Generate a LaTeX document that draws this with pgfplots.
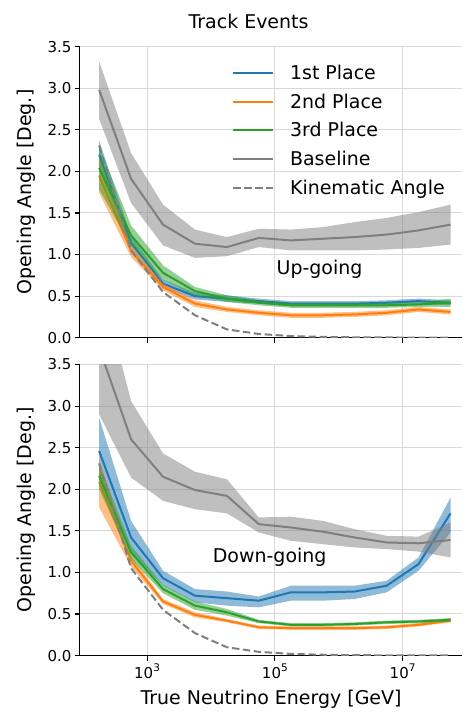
\documentclass[border=0pt]{standalone}
\usepackage{fontspec}
\setmainfont{DejaVu Sans}
\usepackage{pgfplots}
\pgfplotsset{compat=1.18}
\usepackage{pgfplotstable}

\definecolor{tabblue}{HTML}{1F77B4}
\definecolor{taborange}{HTML}{FF7F0E}
\definecolor{tabgreen}{HTML}{2CA02C}
\definecolor{tabgray}{HTML}{7F7F7F}

\newcommand{\labfont}{\fontsize{19}{23}\selectfont}
\newcommand{\tickfont}{\fontsize{15}{18}\selectfont}
\newcommand{\tp}[1]{10\raisebox{6.5pt}{\fontsize{10.5}{12}\selectfont #1}}

% Up-going: central lines
\pgfplotstableread{
E        b    o    g    base kin
177.8    2.20 1.95 2.04 2.98 2.31
562.3    1.14 1.04 1.23 1.91 1.05
1778     0.65 0.61 0.78 1.36 0.55
5623     0.50 0.41 0.56 1.13 0.27
17783    0.47 0.34 0.47 1.09 0.10
56234    0.44 0.30 0.42 1.20 0.045
177828   0.41 0.27 0.39 1.17 0.02
562341   0.41 0.27 0.39 1.19 0.01
1778279  0.41 0.28 0.39 1.21 0.005
5623413  0.42 0.30 0.39 1.24 0.003
17782794 0.44 0.34 0.40 1.29 0.002
56234133 0.42 0.31 0.42 1.36 0.001
}\upmid
% Up-going: bands (upper edge forward, lower edge backward)
\pgfplotstableread{
E        b    o    g    base
177.8    2.37 2.14 2.30 3.32
562.3    1.22 1.11 1.35 2.22
1778     0.70 0.65 0.87 1.60
5623     0.54 0.45 0.61 1.30
17783    0.51 0.37 0.51 1.21
56234    0.47 0.33 0.45 1.31
177828   0.44 0.30 0.42 1.30
562341   0.44 0.30 0.42 1.33
1778279  0.44 0.31 0.42 1.39
5623413  0.45 0.33 0.42 1.44
17782794 0.47 0.37 0.43 1.51
56234133 0.45 0.34 0.47 1.60
56234133 0.39 0.28 0.37 1.12
17782794 0.41 0.31 0.37 1.08
5623413  0.39 0.27 0.36 1.06
1778279  0.38 0.25 0.36 1.05
562341   0.38 0.24 0.36 1.05
177828   0.38 0.24 0.36 1.05
56234    0.41 0.27 0.39 1.09
17783    0.43 0.31 0.43 0.98
5623     0.46 0.37 0.51 0.96
1778     0.60 0.57 0.69 1.11
562.3    1.06 0.97 1.11 1.62
177.8    2.03 1.74 1.78 2.63
}\upband

% Down-going: central lines
\pgfplotstableread{
E        b    o    g    base kin
177.8    2.46 2.09 2.16 3.70 2.31
562.3    1.42 1.14 1.24 2.60 1.05
1778     0.93 0.65 0.80 2.15 0.55
5623     0.72 0.49 0.60 1.99 0.27
17783    0.69 0.42 0.52 1.92 0.10
56234    0.66 0.34 0.41 1.58 0.045
177828   0.76 0.33 0.37 1.54 0.02
562341   0.76 0.33 0.37 1.49 0.01
1778279  0.77 0.33 0.38 1.42 0.005
5623413  0.84 0.34 0.40 1.36 0.003
17782794 1.10 0.37 0.41 1.35 0.002
56234133 1.71 0.42 0.43 1.39 0.001
}\downmid
% Down-going: bands
\pgfplotstableread{
E        b    o    g    base
177.8    2.86 2.36 2.31 4.55
562.3    1.62 1.20 1.32 3.06
1778     1.02 0.68 0.85 2.43
5623     0.80 0.52 0.65 2.21
17783    0.77 0.44 0.56 2.12
56234    0.71 0.36 0.43 1.66
177828   0.84 0.35 0.39 1.67
562341   0.84 0.35 0.39 1.62
1778279  0.84 0.35 0.40 1.52
5623413  0.90 0.36 0.42 1.44
17782794 1.18 0.39 0.43 1.43
56234133 1.90 0.45 0.45 1.60
56234133 1.48 0.40 0.41 1.18
17782794 1.02 0.35 0.39 1.25
5623413  0.76 0.32 0.38 1.28
1778279  0.68 0.31 0.36 1.30
562341   0.66 0.31 0.35 1.34
177828   0.66 0.31 0.35 1.38
56234    0.58 0.32 0.39 1.48
17783    0.60 0.40 0.48 1.71
5623     0.64 0.46 0.55 1.76
1778     0.84 0.62 0.75 1.86
562.3    1.24 1.07 1.16 2.14
177.8    2.15 1.78 2.00 2.90
}\downband

\pgfplotsset{legend image code/.code={\draw[#1] (0pt,0pt) -- (40pt,0pt);}}

\begin{document}
\begin{tikzpicture}
\begin{axis}[
  width=383pt, height=291.6pt, scale only axis,
  xmode=log, xmin=88.7, xmax=8.57e7, ymin=0, ymax=3.5,
  axis lines*=left, axis line style={line width=1.2pt, black},
  tick align=outside, major tick length=5pt,
  tick style={line width=1.1pt, black},
  xtick={1000,100000,10000000},
  ytick={0,0.5,1,1.5,2,2.5,3,3.5},
  yticklabels={0.0,0.5,1.0,1.5,2.0,2.5,3.0,3.5},
  xticklabels={},
  grid=major, major grid style={black!15, line width=1pt},
  yticklabel style={font=\tickfont},
  ylabel={Opening Angle [Deg.]},
  ylabel style={font=\labfont, at={(axis description cs:-0.141,0.5)}, anchor=center},
  at={(0pt,0pt)}, anchor=south west,
  legend cell align=left,
  legend style={draw=none, fill=none, font=\labfont,
    at={(axis description cs:0.39,0.95)}, anchor=north west,
    row sep=8.7pt, column sep=14pt},
]
\addplot[draw=none, fill=tabblue, fill opacity=0.5, forget plot] table[x=E,y=b]{\upband};
\addplot[line width=2pt, tabblue] table[x=E,y=b]{\upmid};
\addlegendentry{1st Place}
\addplot[draw=none, fill=taborange, fill opacity=0.5, forget plot] table[x=E,y=o]{\upband};
\addplot[line width=2pt, taborange] table[x=E,y=o]{\upmid};
\addlegendentry{2nd Place}
\addplot[draw=none, fill=tabgreen, fill opacity=0.5, forget plot] table[x=E,y=g]{\upband};
\addplot[line width=2pt, tabgreen] table[x=E,y=g]{\upmid};
\addlegendentry{3rd Place}
\addplot[draw=none, fill=tabgray, fill opacity=0.5, forget plot] table[x=E,y=base]{\upband};
\addplot[line width=2pt, tabgray] table[x=E,y=base]{\upmid};
\addlegendentry{Baseline}
\addplot[line width=2pt, tabgray, dash pattern=on 7.5pt off 3.5pt] table[x=E,y=kin]{\upmid};
\addlegendentry{Kinematic Angle}
\node[font=\labfont] at (axis cs:500000,0.82) {Up-going};
\end{axis}
\begin{axis}[
  width=383pt, height=291.6pt, scale only axis,
  xmode=log, xmin=88.7, xmax=8.57e7, ymin=0, ymax=3.5,
  axis lines*=left, axis line style={line width=1.2pt, black},
  tick align=outside, major tick length=5pt,
  tick style={line width=1.1pt, black},
  xtick={1000,100000,10000000},
  ytick={0,0.5,1,1.5,2,2.5,3,3.5},
  yticklabels={0.0,0.5,1.0,1.5,2.0,2.5,3.0,3.5},
  xticklabels={\tp{3},\tp{5},\tp{7}},
  grid=major, major grid style={black!15, line width=1pt},
  xticklabel style={font=\tickfont},
  yticklabel style={font=\tickfont},
  ylabel={Opening Angle [Deg.]},
  ylabel style={font=\labfont, at={(axis description cs:-0.141,0.5)}, anchor=center},
  xlabel={True Neutrino Energy [GeV]},
  xlabel style={font=\labfont, at={(axis description cs:0.5,0)}, anchor=center, yshift=-44pt},
  at={(0pt,-318.4pt)}, anchor=south west,
]
\addplot[draw=none, fill=tabblue, fill opacity=0.5] table[x=E,y=b]{\downband};
\addplot[line width=2pt, tabblue] table[x=E,y=b]{\downmid};
\addplot[draw=none, fill=taborange, fill opacity=0.5] table[x=E,y=o]{\downband};
\addplot[line width=2pt, taborange] table[x=E,y=o]{\downmid};
\addplot[draw=none, fill=tabgreen, fill opacity=0.5] table[x=E,y=g]{\downband};
\addplot[line width=2pt, tabgreen] table[x=E,y=g]{\downmid};
\addplot[draw=none, fill=tabgray, fill opacity=0.5] table[x=E,y=base]{\downband};
\addplot[line width=2pt, tabgray] table[x=E,y=base]{\downmid};
\addplot[line width=2pt, tabgray, dash pattern=on 7.5pt off 3.5pt] table[x=E,y=kin]{\downmid};
\node[font=\labfont] at (axis cs:83000,1.185) {Down-going};
\end{axis}
\node[font=\labfont, anchor=base] at (169pt,310pt) {Track Events};
\path[use as bounding box] (-80pt,-373.7pt) rectangle (383pt,338.3pt);
\end{tikzpicture}
\end{document}
